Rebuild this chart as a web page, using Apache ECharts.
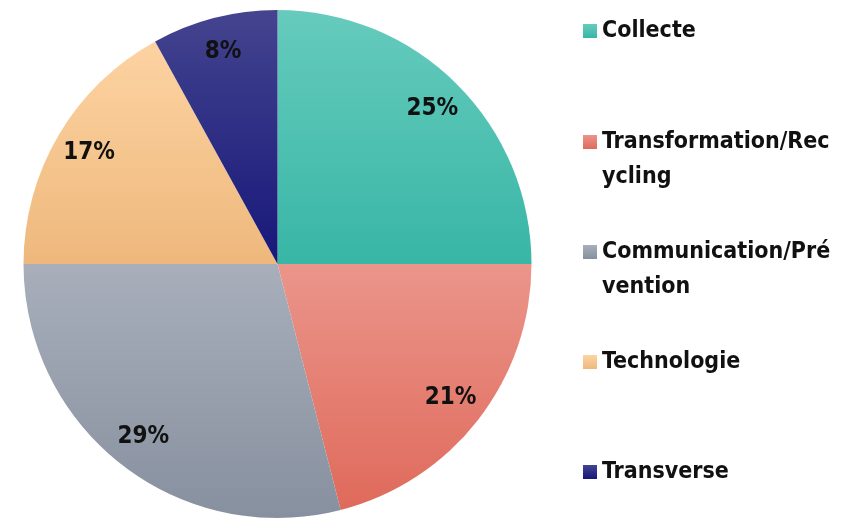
<!DOCTYPE html>
<html>
<head>
<meta charset="utf-8">
<script src="https://cdn.jsdelivr.net/npm/echarts@6/dist/echarts.min.js"></script>
<style>
html,body{margin:0;padding:0;background:#fff;}
#chart{width:858px;height:519px;}
</style>
</head>
<body>
<div id="chart"></div>
<script>
var categories = ['Collecte', 'Transformation/Recycling', 'Communication/Prévention', 'Technologie', 'Transverse'];
var values = [25, 21, 29, 17, 8];
var legendLines = [['Collecte'], ['Transformation/Rec', 'ycling'], ['Communication/Pré', 'vention'], ['Technologie'], ['Transverse']];
var topColors = ['#66cbbd', '#eb958b', '#a8afbb', '#fdd3a2', '#44448f'];
var bottomColors = ['#38b6a6', '#df6a5b', '#87909f', '#eeb87c', '#17177a'];

var FONT = '"Liberation Sans Narrow", "DejaVu Sans Condensed", "Roboto Condensed", sans-serif';
var chart = echarts.init(document.getElementById('chart'), null, {renderer: 'canvas'});

var mainData = categories.map(function (c, i) {
  return {
    name: c,
    value: values[i],
    itemStyle: {
      color: new echarts.graphic.LinearGradient(0, 0, 0, 1, [
        {offset: 0, color: topColors[i]},
        {offset: 1, color: bottomColors[i]}
      ])
    }
  };
});
var labelData = categories.map(function (c, i) {
  return {name: c, value: values[i]};
});

var L = 35;
var legendCenters = [31, 142, 252, 362, 472];
var legends = categories.map(function (c, i) {
  var lines = legendLines[i];
  var multi = lines.length > 1;
  var offset = multi ? (3 * L) / 2 : L / 2;
  return {
    data: [c],
    orient: 'vertical',
    left: 583,
    top: legendCenters[i] - offset,
    padding: 0,
    icon: 'rect',
    itemWidth: 14,
    itemHeight: 14,
    selectedMode: false,
    formatter: function () { return (multi ? ' \n' : '') + lines.join('\n'); },
    textStyle: {
      fontFamily: FONT,
      fontWeight: 'bold',
      fontSize: 23,
      color: '#111',
      lineHeight: L
    }
  };
});

chart.setOption({
  animation: false,
  backgroundColor: '#fff',
  legend: legends,
  series: [
    {
      type: 'pie',
      center: [277.5, 264],
      radius: [0, 254],
      startAngle: 90,
      clockwise: true,
      silent: true,
      label: {show: false},
      labelLine: {show: false},
      data: mainData
    },
    {
      type: 'pie',
      center: [277.5, 264],
      radius: [178, 254],
      startAngle: 90,
      clockwise: true,
      silent: true,
      itemStyle: {color: 'rgba(0,0,0,0)'},
      label: {
        show: true,
        position: 'inside',
        formatter: function (p) { return p.value + '%'; },
        fontFamily: FONT,
        fontWeight: 'bold',
        fontSize: 24,
        color: '#111'
      },
      labelLine: {show: false},
      data: labelData
    }
  ]
});
</script>
</body>
</html>
